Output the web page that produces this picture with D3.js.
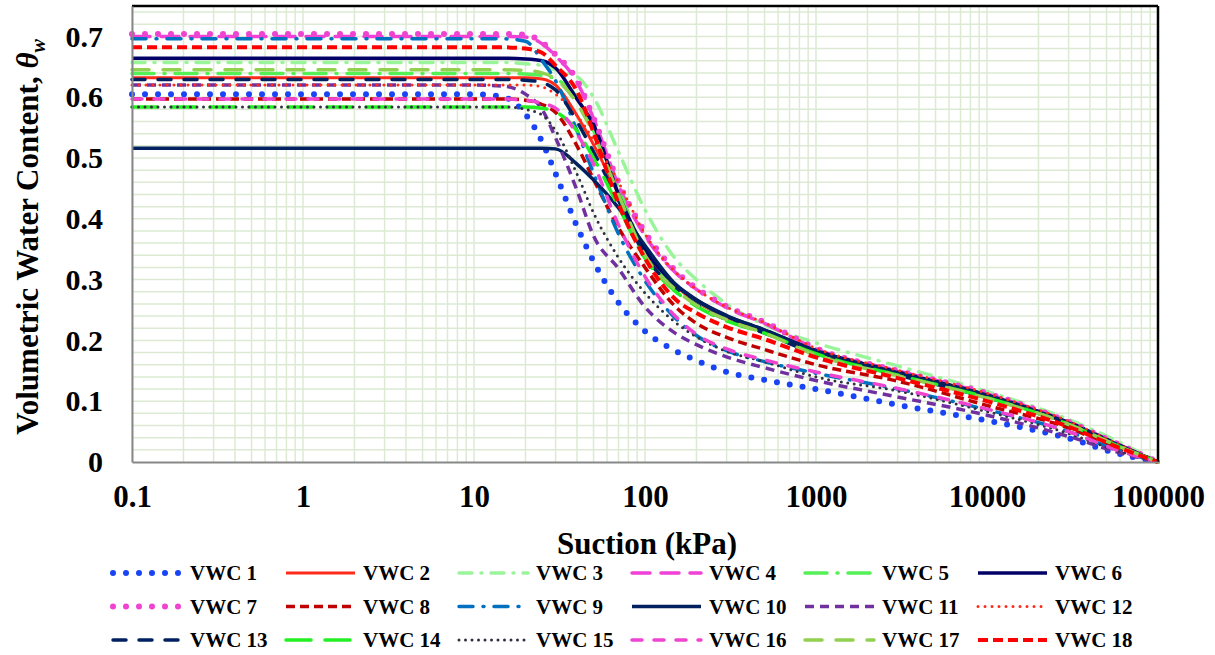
<!DOCTYPE html>
<html>
<head>
<meta charset="utf-8">
<title>SWCC</title>
<script src="https://cdn.jsdelivr.net/npm/d3@7"></script>
<style>
  body { margin: 0; background: #fff; }
  text { font-family: "Liberation Serif", "Times New Roman", serif; font-weight: bold; fill: #000; }
</style>
</head>
<body>
<div id="chart"></div>
<script>
var suction = [0.1, 10, 15, 20, 25, 30, 40, 50, 70, 100, 150, 200, 300, 500, 1000, 3000, 10000, 30000, 60000, 100000];

var vwc1  = [0.605,0.605,0.600,0.572,0.527,0.474,0.388,0.330,0.262,0.215,0.183,0.167,0.148,0.135,0.120,0.094,0.068,0.039,0.013,0];
var vwc2  = [0.632,0.632,0.632,0.632,0.630,0.620,0.570,0.522,0.440,0.345,0.290,0.263,0.238,0.216,0.180,0.145,0.108,0.063,0.026,0];
var vwc3  = [0.657,0.657,0.657,0.655,0.652,0.645,0.634,0.600,0.510,0.415,0.335,0.300,0.260,0.226,0.196,0.158,0.116,0.070,0.032,0];
var vwc4  = [0.700,0.700,0.700,0.699,0.688,0.668,0.625,0.565,0.455,0.372,0.312,0.284,0.254,0.228,0.186,0.150,0.112,0.066,0.028,0];
var vwc5  = [0.639,0.639,0.639,0.638,0.636,0.630,0.600,0.545,0.450,0.345,0.291,0.265,0.240,0.218,0.180,0.145,0.108,0.064,0.026,0];
var vwc6  = [0.664,0.664,0.664,0.663,0.660,0.648,0.597,0.555,0.440,0.350,0.292,0.266,0.240,0.217,0.183,0.148,0.110,0.065,0.027,0];
var vwc7  = [0.704,0.704,0.704,0.703,0.690,0.670,0.628,0.566,0.460,0.378,0.315,0.286,0.256,0.230,0.187,0.150,0.113,0.066,0.028,0];
var vwc8  = [0.597,0.597,0.597,0.595,0.588,0.575,0.520,0.465,0.385,0.320,0.256,0.228,0.205,0.185,0.160,0.133,0.093,0.056,0.021,0];
var vwc9  = [0.696,0.696,0.696,0.692,0.660,0.627,0.545,0.475,0.375,0.298,0.237,0.208,0.183,0.165,0.146,0.120,0.086,0.050,0.018,0];
var vwc10 = [0.516,0.516,0.516,0.516,0.516,0.515,0.490,0.464,0.418,0.356,0.293,0.267,0.241,0.217,0.183,0.147,0.110,0.064,0.027,0];
var vwc11 = [0.620,0.620,0.618,0.605,0.580,0.533,0.447,0.372,0.318,0.255,0.212,0.193,0.173,0.155,0.134,0.107,0.077,0.042,0.015,0];
var vwc12 = [0.620,0.620,0.620,0.620,0.617,0.605,0.570,0.530,0.460,0.375,0.313,0.284,0.255,0.229,0.187,0.151,0.113,0.067,0.028,0];
var vwc13 = [0.629,0.629,0.629,0.628,0.624,0.612,0.560,0.510,0.430,0.340,0.285,0.259,0.234,0.212,0.177,0.143,0.106,0.062,0.025,0];
var vwc14 = [0.584,0.584,0.584,0.584,0.582,0.576,0.545,0.500,0.420,0.335,0.281,0.256,0.232,0.212,0.178,0.143,0.106,0.062,0.025,0];
var vwc15 = [0.584,0.584,0.584,0.580,0.571,0.545,0.474,0.410,0.336,0.278,0.230,0.206,0.182,0.165,0.140,0.117,0.083,0.047,0.017,0];
var vwc16 = [0.597,0.597,0.597,0.595,0.590,0.582,0.540,0.490,0.390,0.305,0.240,0.210,0.186,0.168,0.148,0.121,0.087,0.050,0.018,0];
var vwc17 = [0.645,0.645,0.645,0.644,0.640,0.630,0.590,0.540,0.440,0.340,0.284,0.258,0.234,0.212,0.176,0.142,0.105,0.062,0.025,0];
var vwc18 = [0.682,0.682,0.682,0.680,0.673,0.652,0.610,0.542,0.425,0.335,0.268,0.245,0.222,0.202,0.172,0.138,0.100,0.058,0.023,0];

var seriesNames = ["VWC 1","VWC 2","VWC 3","VWC 4","VWC 5","VWC 6","VWC 7","VWC 8","VWC 9",
                   "VWC 10","VWC 11","VWC 12","VWC 13","VWC 14","VWC 15","VWC 16","VWC 17","VWC 18"];
var seriesValues = [vwc1,vwc2,vwc3,vwc4,vwc5,vwc6,vwc7,vwc8,vwc9,vwc10,vwc11,vwc12,vwc13,vwc14,vwc15,vwc16,vwc17,vwc18];

var xTicks = [0.1, 1, 10, 100, 1000, 10000, 100000];
var xTickLabels = ["0.1","1","10","100","1000","10000","100000"];
var yTicks = [0, 0.1, 0.2, 0.3, 0.4, 0.5, 0.6, 0.7];
var yTickLabels = ["0","0.1","0.2","0.3","0.4","0.5","0.6","0.7"];

// line looks, same order as the series
var styles = [
  {c:"#1844f5", w:6,   d:"0,13",         cap:"round"},
  {c:"#ff2a1a", w:3,   d:null,           cap:"butt"},
  {c:"#9af59a", w:3.5, d:"13,9,1,9",     cap:"round"},
  {c:"#f040d8", w:3.5, d:"18,11",        cap:"round"},
  {c:"#55f055", w:3.5, d:"22,10,1,10",   cap:"round"},
  {c:"#000066", w:3.5, d:null,           cap:"butt"},
  {c:"#ee44d0", w:6,   d:"0,13",         cap:"round"},
  {c:"#c00000", w:3.5, d:"9,5",          cap:"butt"},
  {c:"#0070c0", w:3.5, d:"14,10,1,10",   cap:"round"},
  {c:"#002060", w:3.5, d:null,           cap:"butt"},
  {c:"#7030a0", w:3.5, d:"9,6",          cap:"butt"},
  {c:"#ff2a1a", w:3,   d:"0,7",          cap:"round"},
  {c:"#002060", w:3.5, d:"13,13",        cap:"round"},
  {c:"#22f022", w:3.5, d:"25,14",        cap:"round"},
  {c:"#303040", w:3,   d:"0,6.5",        cap:"round"},
  {c:"#ee44d0", w:3.5, d:"10,12",        cap:"round"},
  {c:"#92d050", w:3.5, d:"17,14",        cap:"round"},
  {c:"#ff0000", w:4,   d:"10,5",         cap:"butt"}
];

var width = 1215, height = 655,
    plot = {left: 132, right: 1158, top: 6, bottom: 462};

var svg = d3.select("#chart").append("svg")
    .attr("width", width)
    .attr("height", height);

var x = d3.scaleLog().domain([0.1, 100000]).range([plot.left, plot.right]);
var y = d3.scaleLinear().domain([0, 0.75]).range([plot.bottom, plot.top]);

// grid
var grid = svg.append("g").attr("stroke", "#ddead3").attr("stroke-width", 1.5);
var vLines = [];
for (var e = -1; e < 5; e++) {
  for (var k = 1; k <= 9; k++) vLines.push(k * Math.pow(10, e));
}
grid.selectAll(".v").data(vLines).enter().append("line")
    .attr("x1", function(d) { return x(d); }).attr("x2", function(d) { return x(d); })
    .attr("y1", plot.top).attr("y2", plot.bottom);
var hLines = d3.range(1, 38).map(function(i) { return i * 0.02; });
grid.selectAll(".h").data(hLines).enter().append("line")
    .attr("x1", plot.left).attr("x2", plot.right)
    .attr("y1", function(d) { return y(d); }).attr("y2", function(d) { return y(d); });

// curves
var line = d3.line()
    .x(function(d) { return x(d[0]); })
    .y(function(d) { return y(d[1]); })
    .curve(d3.curveMonotoneX);

var curves = svg.append("g");
seriesValues.forEach(function(vals, i) {
  var pts = suction.map(function(s, j) { return [s, vals[j]]; });
  var st = styles[i];
  curves.append("path")
      .attr("d", line(pts))
      .attr("fill", "none")
      .attr("stroke", st.c)
      .attr("stroke-width", st.w)
      .attr("stroke-linecap", st.cap)
      .attr("stroke-dasharray", st.d);
});

// frame
svg.append("line").attr("x1", plot.left).attr("x2", plot.right).attr("y1", plot.top).attr("y2", plot.top)
    .attr("stroke", "#000").attr("stroke-width", 2.5);
svg.append("line").attr("x1", plot.right).attr("x2", plot.right).attr("y1", plot.top).attr("y2", plot.bottom)
    .attr("stroke", "#000").attr("stroke-width", 2.5);

// axes
var xAxis = d3.axisBottom(x).tickValues(xTicks).tickSize(0).tickPadding(20)
    .tickFormat(function(d, i) { return xTickLabels[i]; });
var gx = svg.append("g").attr("transform", "translate(0," + plot.bottom + ")").call(xAxis);
gx.select(".domain").attr("stroke", "#888").attr("stroke-width", 2);
gx.selectAll("text").style("font-size", "31px").attr("dy", "0.71em").attr("y", 23);

var yAxis = d3.axisLeft(y).tickValues(yTicks).tickSize(0).tickPadding(29)
    .tickFormat(function(d, i) { return yTickLabels[i]; });
var gy = svg.append("g").attr("transform", "translate(" + plot.left + ",0)").call(yAxis);
gy.select(".domain").attr("stroke", "#888").attr("stroke-width", 2);
gy.selectAll("text").style("font-size", "30px");

// axis titles
svg.append("text")
    .attr("x", 647).attr("y", 554)
    .attr("text-anchor", "middle")
    .style("font-size", "31px")
    .text("Suction (kPa)");

var yt = svg.append("text")
    .attr("transform", "translate(38," + 237 + ") rotate(-90)")
    .attr("text-anchor", "middle")
    .style("font-size", "31px");
yt.append("tspan").text("Volumetric Water Content, ");
yt.append("tspan").style("font-style", "italic").text("θ");
yt.append("tspan").style("font-style", "italic").style("font-size", "20px").attr("dy", 7).text("w");

// legend
var legend = svg.append("g");
seriesNames.forEach(function(name, i) {
  var col = i % 6, row = Math.floor(i / 6);
  var lx = 113 + col * 173, ly = 573 + row * 33.5;
  var st = styles[i];
  legend.append("line")
      .attr("x1", lx).attr("x2", lx + 69).attr("y1", ly).attr("y2", ly)
      .attr("stroke", st.c)
      .attr("stroke-width", st.w)
      .attr("stroke-linecap", st.cap)
      .attr("stroke-dasharray", st.d);
  legend.append("text")
      .attr("x", lx + 77).attr("y", ly + 7)
      .style("font-size", "21px")
      .text(name);
});
</script>
</body>
</html>
